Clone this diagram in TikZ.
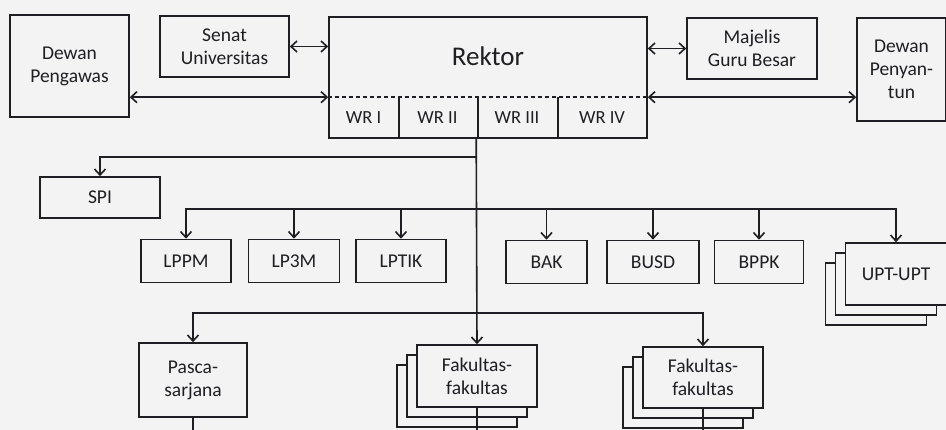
\documentclass[tikz,border=0pt]{standalone}
\usepackage{fontspec}
\setmainfont{Carlito}
\usetikzlibrary{arrows.meta,shadows}

\definecolor{paper}{RGB}{243,243,244}
\definecolor{ink}{RGB}{30,30,35}

\tikzset{
  >={Straight Barb[length=6pt,width=11pt]},
  unit/.style={draw=ink, line width=1.6pt, align=center, inner sep=0pt,
    font=\fontsize{19.5}{23}\selectfont, text=ink},
  stack/.style={unit, fill=paper,
    double copy shadow={shadow xshift=-10pt, shadow yshift=-10pt, draw=ink, fill=paper}},
  link/.style={ink, line width=1.6pt},
}

\begin{document}
\begin{tikzpicture}[x=1pt, y=-1pt]
  \fill[paper] (0,0) rectangle (946,430);
  \useasboundingbox (0,0) rectangle (946,430);

  % top row
  \node[unit, minimum width=119pt, minimum height=102pt] (Pengawas) at (69.5,66) {Dewan\\Pengawas};
  \node[unit, minimum width=129pt, minimum height=61pt] (Senat) at (224.5,46.5) {Senat\\Universitas};
  \node[unit, minimum width=318pt, minimum height=121pt] (Rektor) at (488,77.5) {};
  \node[text=ink, font=\fontsize{27}{31}\selectfont] (RektorLbl) at (488,56) {Rektor};
  \node[unit, minimum width=130pt, minimum height=61pt] (Majelis) at (752,48.5) {Majelis\\Guru Besar};
  \node[unit, minimum width=89pt, minimum height=103pt] (Penyantun) at (901.5,69.5) {Dewan\\Penyan-\\tun};

  % wakil rektor cells
  \node[unit, draw=none, font=\fontsize{18.5}{22}\selectfont, minimum width=69pt, minimum height=40pt] (WR1) at (363.5,118) {WR I};
  \node[unit, draw=none, font=\fontsize{18.5}{22}\selectfont, minimum width=79pt, minimum height=40pt] (WR2) at (437.5,118) {WR II};
  \node[unit, draw=none, font=\fontsize{18.5}{22}\selectfont, minimum width=80pt, minimum height=40pt] (WR3) at (517,118) {WR III};
  \node[unit, draw=none, font=\fontsize{18.5}{22}\selectfont, minimum width=90pt, minimum height=40pt] (WR4) at (602,118) {WR IV};
  \draw[link, dashed, dash pattern=on 4pt off 3pt] (WR1.north west) -- (WR4.north east);
  \foreach \c in {WR1,WR2,WR3}
    \draw[link] (\c.north east) -- (\c.south east);

  % second level
  \node[unit, minimum width=120pt, minimum height=41pt] (SPI) at (100,197.5) {SPI};
  \node[unit, minimum width=90pt, minimum height=43pt] (LPPM) at (186,261) {LPPM};
  \node[unit, minimum width=91pt, minimum height=43pt] (LP3M) at (294,261) {LP3M};
  \node[unit, minimum width=90pt, minimum height=43pt] (LPTIK) at (401,261) {LPTIK};
  \node[unit, minimum width=81pt, minimum height=43pt] (BAK) at (546.5,262) {BAK};
  \node[unit, minimum width=92pt, minimum height=43pt] (BUSD) at (653,262) {BUSD};
  \node[unit, minimum width=89pt, minimum height=43pt] (BPPK) at (759,262) {BPPK};
  \node[stack, minimum width=101pt, minimum height=62pt] (UPT) at (896,274) {UPT-UPT};

  % third level
  \node[unit, minimum width=108pt, minimum height=74pt] (Pasca) at (193,380) {Pasca-\\sarjana};
  \node[stack, minimum width=120pt, minimum height=62pt] (Fak1) at (477,376) {Fakultas-\\fakultas};
  \node[stack, minimum width=120pt, minimum height=61pt] (Fak2) at (703,377.5) {Fakultas-\\fakultas};

  % bus junctions
  \coordinate (JSpi) at (477,157);
  \coordinate (JLem) at (477,209);
  \coordinate (JFak) at (477,313);
  \coordinate (Bottom) at (0,436);

  % side links
  \draw[link, <->] (Senat.east) -- (Senat.east -| Rektor.west);
  \draw[link, <->] (Majelis.west -| Rektor.east) -- (Majelis.west);
  \draw[link, <->] (WR1.north west -| Pengawas.east) -- (WR1.north west);
  \draw[link, <->] (WR4.north east) -- (WR4.north east -| Penyantun.west);

  % trunk and branches
  \draw[link, ->] (WR3.south west) -- (Fak1.north);
  \draw[link, ->] (JSpi) -| (SPI.north);
  \foreach \u in {LPPM,LP3M,LPTIK,BAK,BUSD,BPPK,UPT}
    \draw[link, ->] (JLem) -| (\u.north);
  \foreach \u in {Pasca,Fak2}
    \draw[link, ->] (JFak) -| (\u.north);

  % lines leaving the page
  \foreach \u in {Pasca,Fak1,Fak2}
    \draw[link] (\u.south) -- (\u.south |- Bottom);
\end{tikzpicture}
\end{document}
